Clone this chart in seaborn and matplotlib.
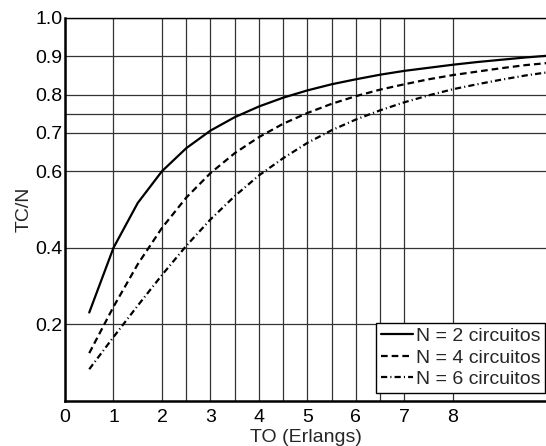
import numpy as np
import pandas as pd
import matplotlib
matplotlib.use("Agg")
import matplotlib.pyplot as plt
import seaborn as sns

# --- Data: TC/N, every 0.5 Erlang ---
to_erlangs = [0.5, 1.0, 1.5, 2.0, 2.5, 3.0, 3.5, 4.0, 4.5, 5.0,
              5.5, 6.0, 6.5, 7.0, 7.5, 8.0, 8.5, 9.0, 9.5, 10.0]
tcn_n2 = [0.231, 0.400, 0.517, 0.600, 0.660, 0.706, 0.741, 0.769, 0.792, 0.811,
          0.827, 0.840, 0.852, 0.862, 0.870, 0.878, 0.885, 0.891, 0.897, 0.902]
tcn_n4 = [0.125, 0.246, 0.357, 0.452, 0.531, 0.595, 0.647, 0.689, 0.724, 0.752,
          0.776, 0.796, 0.813, 0.827, 0.840, 0.851, 0.860, 0.869, 0.877, 0.883]
tcn_n6 = [0.083, 0.167, 0.249, 0.329, 0.405, 0.474, 0.535, 0.589, 0.634, 0.674,
          0.707, 0.735, 0.759, 0.780, 0.798, 0.814, 0.827, 0.839, 0.850, 0.859]
labels = ["N = 2 circuitos", "N = 4 circuitos", "N = 6 circuitos"]

x_ticks = [0, 1, 2, 3, 4, 5, 6, 7, 8]
x_minor = [2.5, 3.5, 4.5, 5.5, 6.5]
y_ticks = [0.2, 0.4, 0.6, 0.7, 0.8, 0.9, 1.0]
y_minor = [0.75]

sns.set_style("white")
plt.rcParams["font.family"] = ["Liberation Sans", "DejaVu Sans"]
fs = 14

fig = plt.figure(figsize=(5.46, 4.46), dpi=100)
ax = fig.add_axes([65 / 546, 45 / 446, 481 / 546, 383 / 446])

styles = [None, (3.0, 1.8), (2.8, 1.4, 0.5, 1.4)]
for series, lab, dash in zip([tcn_n2, tcn_n4, tcn_n6], labels, styles):
    sns.lineplot(x=to_erlangs, y=series, ax=ax, color="black",
                 linewidth=1.6, label=lab)
    if dash is not None:
        ax.lines[-1].set_dashes(dash)

ax.set_xlim(0, 9.92)
ax.set_ylim(0, 1.0)
ax.set_xticks(x_ticks)
ax.set_xticks(x_minor, minor=True)
ax.set_yticks(y_ticks)
ax.set_yticks(y_minor, minor=True)
ax.set_yticklabels([f"{v:.1f}" for v in y_ticks])
ax.tick_params(which="both", length=0, labelsize=fs, colors="black")
ax.tick_params(axis="x", pad=6)
ax.tick_params(axis="y", pad=2)

ax.grid(True, which="both", color="0.2", linewidth=0.9)
ax.set_axisbelow(True)

for side in ["left", "bottom"]:
    ax.spines[side].set_color("black")
    ax.spines[side].set_linewidth(1.8)
ax.spines["top"].set_color("black")
ax.spines["top"].set_linewidth(1.0)
ax.spines["right"].set_visible(False)

ax.set_xlabel("TO (Erlangs)", fontsize=fs, labelpad=2)
ax.set_ylabel("TC/N", fontsize=fs, labelpad=2)

# legend box sits tight against the right edge, a little above the x axis
leg = ax.legend(loc="lower right", bbox_to_anchor=(545 / 546, 53 / 446),
                bbox_transform=fig.transFigure, borderaxespad=0,
                fontsize=fs, frameon=True, fancybox=False,
                edgecolor="black", framealpha=1, handlelength=1.65,
                handletextpad=0.15, borderpad=0.25, labelspacing=0.2)
leg.get_frame().set_linewidth(1.0)

fig.savefig("out.png", dpi=100)
